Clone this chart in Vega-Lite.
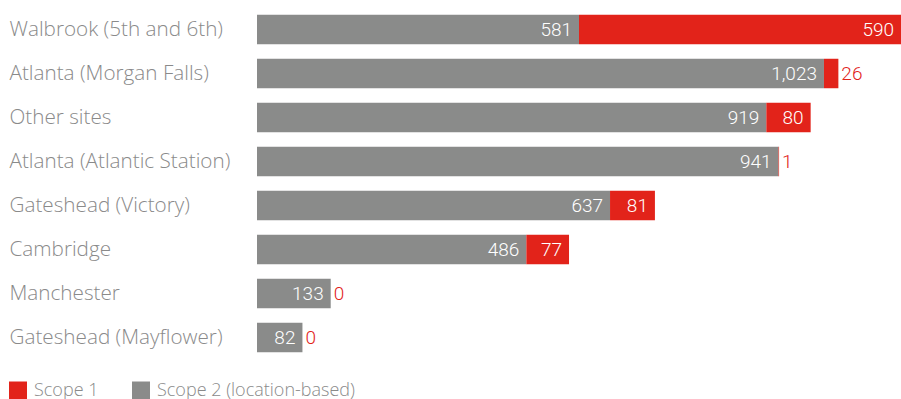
{
  "$schema": "https://vega.github.io/schema/vega-lite/v6.json",
  "autosize": {"type": "none"},
  "padding": {"left": 257, "top": 7.5, "right": 0, "bottom": 39.5},
  "width": 644,
  "height": 352,
  "background": "white",
  "config": {"view": {"stroke": null}, "font": "Roboto"},
  "data": {"values": [
    {"site": "Walbrook (5th and 6th)", "scope": "Scope 2 (location-based)", "value": 581},
    {"site": "Walbrook (5th and 6th)", "scope": "Scope 1", "value": 590},
    {"site": "Atlanta (Morgan Falls)", "scope": "Scope 2 (location-based)", "value": 1023},
    {"site": "Atlanta (Morgan Falls)", "scope": "Scope 1", "value": 26},
    {"site": "Other sites", "scope": "Scope 2 (location-based)", "value": 919},
    {"site": "Other sites", "scope": "Scope 1", "value": 80},
    {"site": "Atlanta (Atlantic Station)", "scope": "Scope 2 (location-based)", "value": 941},
    {"site": "Atlanta (Atlantic Station)", "scope": "Scope 1", "value": 1},
    {"site": "Gateshead (Victory)", "scope": "Scope 2 (location-based)", "value": 637},
    {"site": "Gateshead (Victory)", "scope": "Scope 1", "value": 81},
    {"site": "Cambridge", "scope": "Scope 2 (location-based)", "value": 486},
    {"site": "Cambridge", "scope": "Scope 1", "value": 77},
    {"site": "Manchester", "scope": "Scope 2 (location-based)", "value": 133},
    {"site": "Manchester", "scope": "Scope 1", "value": 0},
    {"site": "Gateshead (Mayflower)", "scope": "Scope 2 (location-based)", "value": 82},
    {"site": "Gateshead (Mayflower)", "scope": "Scope 1", "value": 0}
  ]},
  "transform": [
    {"stack": "value", "groupby": ["site"], "sort": [{"field": "scope", "order": "descending"}], "as": ["x0", "x1"]}
  ],
  "encoding": {
    "y": {
      "field": "site", "type": "nominal",
      "sort": ["Walbrook (5th and 6th)", "Atlanta (Morgan Falls)", "Other sites", "Atlanta (Atlantic Station)", "Gateshead (Victory)", "Cambridge", "Manchester", "Gateshead (Mayflower)"],
      "scale": {"paddingInner": 0.33, "paddingOuter": 0.165},
      "axis": {"title": null, "domain": false, "ticks": false, "labelAlign": "left", "labelPadding": 248, "labelLimit": 300, "labelFontSize": 20.7, "labelFont": "Open Sans", "labelFontWeight": 300, "labelColor": "#8a8a8a"}
    }
  },
  "layer": [
    {
      "mark": {"type": "bar"},
      "encoding": {
        "x": {"field": "x0", "type": "quantitative", "scale": {"domain": [0, 1162], "clamp": true, "nice": false, "zero": true}, "axis": null},
        "x2": {"field": "x1"},
        "color": {
          "field": "scope", "type": "nominal",
          "scale": {"domain": ["Scope 1", "Scope 2 (location-based)"], "range": ["#e2231a", "#8a8b8a"]},
          "legend": {"title": null, "orient": "none", "direction": "horizontal", "legendX": -248, "legendY": 374, "symbolType": "square", "symbolSize": 324, "symbolStrokeWidth": 0, "symbolOpacity": 1, "labelFontSize": 18, "labelFont": "Open Sans", "labelFontWeight": 300, "labelColor": "#8a8a8a", "labelLimit": 400, "columnPadding": 33, "labelOffset": 7}
        }
      }
    },
    {
      "transform": [{"filter": "datum.scope != 'Scope 1' || datum.value >= 50"}],
      "mark": {"type": "text", "align": "right", "baseline": "middle", "dx": -7, "fontSize": 19, "font": "Roboto", "fontWeight": 300, "color": "white"},
      "encoding": {
        "x": {"field": "x1", "type": "quantitative"},
        "text": {"field": "value", "type": "quantitative", "format": ","}
      }
    },
    {
      "transform": [{"filter": "datum.scope == 'Scope 1' && datum.value < 50"}],
      "mark": {"type": "text", "align": "left", "baseline": "middle", "dx": 3, "fontSize": 19, "font": "Roboto", "fontWeight": 300, "color": "#e2231a"},
      "encoding": {
        "x": {"field": "x1", "type": "quantitative"},
        "text": {"field": "value", "type": "quantitative", "format": ","}
      }
    }
  ]
}
